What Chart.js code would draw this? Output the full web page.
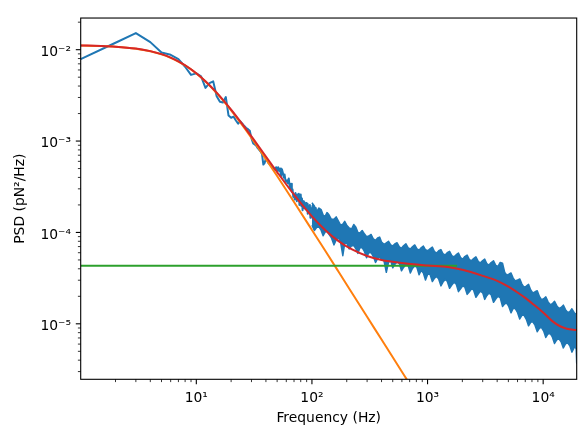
<!DOCTYPE html>
<html>
<head>
<meta charset="utf-8">
<script src="https://cdn.jsdelivr.net/npm/chart.js@4.4.0/dist/chart.umd.min.js"></script>
<style>
  html, body { margin: 0; padding: 0; background: #fff; }
  canvas { display: block; }
</style>
</head>
<body>
<canvas id="psdChart" width="586" height="437"></canvas>
<script>
// measured PSD, low frequency bins (one point per bin)
var lowFreq = [1, 2, 3, 4, 5, 6, 7, 8, 9, 10, 11, 12, 13, 14, 15, 16, 17, 18, 19, 20,
  21, 22, 23, 24, 25, 26, 27, 28, 29, 30, 31, 32, 33, 34, 35, 36, 37, 38, 39, 40,
  41, 42, 43, 44, 45, 46, 47, 48, 49, 50, 51, 52, 53, 54, 55, 56, 57, 58, 59, 60,
  61, 62, 63, 64, 65, 66, 67, 68, 69, 70, 71, 72, 73, 74, 75, 76, 77, 78, 79, 80,
  81, 82, 83, 84, 85, 86, 88, 89, 90, 91, 92, 93, 95, 96, 97, 98, 100, 101, 102, 104,
  105, 107, 108, 110];
var lowPsd = [7.9e-3, 1.19e-2, 1.52e-2, 1.21e-2, 9.3e-3, 8.8e-3, 7.9e-3, 6.5e-3, 5.3e-3, 5.5e-3,
  5.1e-3, 3.82e-3, 4.3e-3, 4.5e-3, 3.1e-3, 2.69e-3, 2.64e-3, 3.03e-3, 1.9e-3, 1.8e-3,
  1.85e-3, 1.68e-3, 1.55e-3, 1.64e-3, 1.55e-3, 1.46e-3, 1.39e-3, 1.35e-3, 1.3e-3, 1.07e-3,
  9.45e-4, 9.2e-4, 8.9e-4, 8.35e-4, 8.0e-4, 7.68e-4, 7.2e-4, 5.53e-4, 5.77e-4, 6.53e-4,
  6.11e-4, 5.77e-4, 5.62e-4, 5.43e-4, 5.3e-4, 5.09e-4, 5.0e-4, 4.85e-4, 5.18e-4, 4.69e-4,
  5.18e-4, 4.69e-4, 5.0e-4, 4.14e-4, 4.92e-4, 4.51e-4, 3.98e-4, 4.3e-4, 3.72e-4, 3.6e-4,
  3.72e-4, 3.45e-4, 3.9e-4, 3.3e-4, 3.05e-4, 3.4e-4, 2.8e-4, 2.95e-4, 2.45e-4, 2.6e-4,
  2.3e-4, 2.7e-4, 2.5e-4, 2.2e-4, 2.6e-4, 2.35e-4, 2.65e-4, 2.0e-4, 2.4e-4, 2.6e-4,
  1.95e-4, 2.35e-4, 1.75e-4, 2.2e-4, 1.85e-4, 2.15e-4, 1.8e-4, 2.1e-4, 1.75e-4, 2.05e-4,
  1.6e-4, 1.95e-4, 1.7e-4, 2.0e-4, 1.45e-4, 1.85e-4, 1.6e-4, 1.95e-4, 1.5e-4, 1.8e-4,
  1.55e-4, 1.85e-4, 1.4e-4, 1.7e-4];

// dense part of the spectrum: upper and lower edge of the noise band
var bandFreq = [100, 105, 110, 115, 120, 125, 130, 135, 140, 147,
  155, 162, 170, 177, 185, 192, 200, 210, 220, 230,
  240, 250, 260, 272, 285, 297, 310, 325, 340, 355,
  370, 385, 400, 420, 440, 460, 480, 500, 520, 545,
  570, 595, 620, 650, 680, 710, 740, 775, 810, 845,
  880, 920, 960, 1005, 1050, 1100, 1150, 1200, 1250, 1305,
  1360, 1420, 1480, 1550, 1620, 1695, 1770, 1850, 1930, 2015,
  2100, 2200, 2300, 2400, 2500, 2620, 2750, 2870, 3000, 3120,
  3250, 3400, 3550, 3720, 3900, 4070, 4250, 4450, 4650, 4850,
  5050, 5270, 5500, 5740, 6000, 6270, 6550, 6840, 7150, 7470,
  7800, 8140, 8500, 8890, 9300, 9690, 10100, 10540, 11000, 11490,
  12000, 12540, 13100, 13690, 14300, 14940, 15600, 16290, 17000, 17730,
  18500, 18900, 19300, 19500];
var bandUpper = [2.11e-4, 1.95e-4, 1.69e-4, 1.85e-4, 1.78e-4, 1.55e-4, 1.5e-4, 1.65e-4, 1.57e-4, 1.4e-4,
  1.39e-4, 1.48e-4, 1.32e-4, 1.2e-4, 1.23e-4, 1.32e-4, 1.2e-4, 1.12e-4, 1.09e-4, 1.22e-4,
  1.14e-4, 1.0e-4, 9.83e-5, 1.05e-4, 9.59e-5, 9.0e-5, 9.13e-5, 9.5e-5, 8.48e-5, 8.2e-5,
  8.69e-5, 8.9e-5, 7.87e-5, 7.4e-5, 7.68e-5, 8.0e-5, 7.31e-5, 7.1e-5, 7.49e-5, 7.7e-5,
  6.96e-5, 6.7e-5, 7.13e-5, 7.5e-5, 6.79e-5, 6.6e-5, 6.96e-5, 7.3e-5, 6.62e-5, 6.4e-5,
  6.79e-5, 7.1e-5, 6.46e-5, 6.3e-5, 6.62e-5, 6.9e-5, 6.15e-5, 5.95e-5, 6.3e-5, 6.5e-5,
  5.85e-5, 5.65e-5, 6.0e-5, 6.2e-5, 5.57e-5, 5.4e-5, 5.71e-5, 5.95e-5, 5.3e-5, 5.1e-5,
  5.44e-5, 5.65e-5, 5.05e-5, 4.9e-5, 5.17e-5, 5.4e-5, 4.8e-5, 4.65e-5, 4.93e-5, 5.1e-5,
  4.57e-5, 4.4e-5, 4.69e-5, 4.9e-5, 4.35e-5, 4.25e-5, 4.69e-5, 4.6e-5, 3.66e-5, 3.4e-5,
  3.49e-5, 3.6e-5, 3.16e-5, 2.95e-5, 3.01e-5, 3.1e-5, 2.72e-5, 2.5e-5, 2.59e-5, 2.7e-5,
  2.35e-5, 2.18e-5, 2.24e-5, 2.3e-5, 1.98e-5, 1.84e-5, 1.88e-5, 1.97e-5, 1.75e-5, 1.62e-5,
  1.66e-5, 1.76e-5, 1.58e-5, 1.47e-5, 1.51e-5, 1.6e-5, 1.43e-5, 1.33e-5, 1.36e-5, 1.46e-5,
  1.33e-5, 1.27e-5, 1.3e-5, 1.84e-5];
var bandLower = [1.2e-4, 1.05e-4, 1.14e-4, 1.15e-4, 1.06e-4, 9.2e-5, 1.01e-4, 1.03e-4, 9.59e-5, 8.8e-5,
  7.31e-5, 8.3e-5, 8.69e-5, 7.8e-5, 5.57e-5, 7.6e-5, 7.68e-5, 6.6e-5, 7.13e-5, 7.2e-5,
  6.62e-5, 5.9e-5, 6.79e-5, 6.8e-5, 6.15e-5, 5.3e-5, 6.0e-5, 6.0e-5, 5.44e-5, 4.7e-5,
  5.17e-5, 5.4e-5, 5.05e-5, 4.9e-5, 3.66e-5, 4.7e-5, 4.93e-5, 4.1e-5, 4.46e-5, 4.75e-5,
  4.57e-5, 3.8e-5, 4.14e-5, 4.45e-5, 4.35e-5, 3.6e-5, 4.04e-5, 4.3e-5, 4.14e-5, 3.45e-5,
  3.85e-5, 3.6e-5, 3.01e-5, 3.5e-5, 3.49e-5, 2.9e-5, 3.16e-5, 3.3e-5, 3.08e-5, 2.6e-5,
  2.86e-5, 3.05e-5, 2.93e-5, 2.45e-5, 2.66e-5, 2.85e-5, 2.72e-5, 2.25e-5, 2.41e-5, 2.6e-5,
  2.53e-5, 2.1e-5, 2.24e-5, 2.42e-5, 2.35e-5, 1.95e-5, 2.13e-5, 2.28e-5, 2.18e-5, 1.85e-5,
  2.03e-5, 2.17e-5, 2.08e-5, 1.72e-5, 1.88e-5, 2.0e-5, 1.93e-5, 1.55e-5, 1.66e-5, 1.68e-5,
  1.54e-5, 1.32e-5, 1.47e-5, 1.47e-5, 1.33e-5, 1.13e-5, 1.24e-5, 1.24e-5, 1.12e-5, 9.5e-6,
  1.04e-5, 1.05e-5, 9.66e-6, 8.2e-6, 8.97e-6, 9.1e-6, 8.33e-6, 7.1e-6, 7.74e-6, 7.85e-6,
  7.19e-6, 6.1e-6, 6.67e-6, 6.85e-6, 6.35e-6, 5.45e-6, 6.04e-6, 6.2e-6, 5.75e-6, 4.9e-6,
  5.48e-6, 5.6e-6, 5.3e-6, 3.69e-6];

// Lorentzian part of the fit (orange)
var lorentzFreq = [1, 1.5, 2, 3, 4, 5, 6, 7, 8, 10, 12, 15, 20, 25, 30, 40, 50, 70, 100, 130,
  170, 220, 300, 400, 600, 1000];
var lorentzPsd = [1.1085e-2, 1.0944e-2, 1.0752e-2, 1.024e-2, 9.601e-3, 8.887e-3, 8.146e-3, 7.416e-3, 6.721e-3, 5.487e-3,
  4.481e-3, 3.35e-3, 2.168e-3, 1.492e-3, 1.08e-3, 6.342e-4, 4.143e-4, 2.153e-4, 1.065e-4, 6.33e-5,
  3.71e-5, 2.218e-5, 1.194e-5, 6.72e-6, 2.99e-6, 1.076e-6];

// white noise floor (green), ends where it disappears under the red fit
var noiseFreq = [1, 1800];
var noisePsd = [4.33e-5, 4.33e-5];

// full fit (red)
var fitFreq = [1, 1.5, 2, 3, 4, 5, 6, 7, 8, 10, 12, 15, 20, 25, 30, 40, 50, 70, 100, 130,
  170, 220, 300, 400, 600, 1000, 1500, 2000, 3000, 4000, 5000, 6000, 7000, 8000, 10000, 12000,
  14000, 16000, 19500];
var fitPsd = [1.113e-2, 1.099e-2, 1.08e-2, 1.028e-2, 9.64e-3, 8.93e-3, 8.19e-3, 7.46e-3, 6.76e-3, 5.53e-3,
  4.52e-3, 3.39e-3, 2.21e-3, 1.535e-3, 1.123e-3, 6.78e-4, 4.58e-4, 2.59e-4, 1.5e-4, 1.066e-4,
  8.04e-5, 6.55e-5, 5.53e-5, 5.0e-5, 4.63e-5, 4.35e-5, 4.18e-5, 3.9e-5, 3.35e-5, 2.95e-5,
  2.55e-5, 2.2e-5, 1.92e-5, 1.68e-5, 1.33e-5, 1.07e-5, 9.4e-6, 8.85e-6, 8.55e-6];

var xMajor = [10, 100, 1000, 10000];
var xTickLabels = ['10\u00b9', '10\u00b2', '10\u00b3', '10\u2074'];
var yMajor = [1e-5, 1e-4, 1e-3, 1e-2];
var yTickLabels = ['10\u207b\u2075', '10\u207b\u2074', '10\u207b\u00b3', '10\u207b\u00b2'];

var FONT = "'DejaVu Sans', sans-serif";

function points(xs, ys) {
  return xs.map(function(x, i) { return {x: x, y: ys[i]}; });
}

function isDecade(v) {
  var l = Math.log10(v);
  return Math.abs(l - Math.round(l)) < 1e-6;
}

// 1..9 x 10^n inside the axis range, like matplotlib's log locator
function logTicks(scale) {
  var out = [];
  var e0 = Math.floor(Math.log10(scale.min));
  var e1 = Math.ceil(Math.log10(scale.max));
  for (var e = e0; e <= e1; e++) {
    for (var k = 1; k <= 9; k++) {
      var v = k * Math.pow(10, e);
      if (v >= scale.min * (1 + 1e-9) && v <= scale.max * (1 - 1e-9)) out.push({value: v, major: k === 1});
    }
  }
  scale.ticks = out;
}

function labelFrom(majors, labels) {
  return function(value) {
    for (var i = 0; i < majors.length; i++) {
      if (Math.abs(majors[i] - value) / majors[i] < 1e-6) return labels[i];
    }
    return '';
  };
}

// clip every line to the axes box, then draw box and outward tick marks
var frameAndTicks = {
  id: 'frameAndTicks',
  beforeDatasetsDraw: function(chart) {
    var a = chart.chartArea, ctx = chart.ctx;
    ctx.save();
    ctx.beginPath();
    ctx.rect(a.left, a.top, a.right - a.left, a.bottom - a.top);
    ctx.clip();
  },
  afterDatasetsDraw: function(chart) {
    var ctx = chart.ctx, a = chart.chartArea;
    var xs = chart.scales.x, ys = chart.scales.y;
    ctx.restore();
    ctx.save();
    ctx.strokeStyle = '#000';
    xs.ticks.forEach(function(t) {
      var big = isDecade(t.value);
      var px = xs.getPixelForValue(t.value);
      ctx.lineWidth = big ? 1.1 : 0.8;
      ctx.beginPath();
      ctx.moveTo(px, a.bottom);
      ctx.lineTo(px, a.bottom + (big ? 4.9 : 2.8));
      ctx.stroke();
    });
    ys.ticks.forEach(function(t) {
      var big = isDecade(t.value);
      var py = ys.getPixelForValue(t.value);
      ctx.lineWidth = big ? 1.1 : 0.8;
      ctx.beginPath();
      ctx.moveTo(a.left, py);
      ctx.lineTo(a.left - (big ? 4.9 : 2.8), py);
      ctx.stroke();
    });
    ctx.lineWidth = 1.1;
    ctx.strokeRect(a.left, a.top, a.right - a.left, a.bottom - a.top);
    ctx.restore();
  }
};

function lineSet(data, color, order) {
  return {
    data: data,
    borderColor: color,
    backgroundColor: color,
    borderWidth: 2,
    pointRadius: 0,
    showLine: true,
    borderJoinStyle: 'round',
    order: order
  };
}

window.onload = function() {
  var ctx = document.getElementById('psdChart').getContext('2d');

  var red = lineSet(points(fitFreq, fitPsd), '#d62728', 0);
  red.cubicInterpolationMode = 'monotone';
  var green = lineSet(points(noiseFreq, noisePsd), '#2ca02c', 1);
  var orange = lineSet(points(lorentzFreq, lorentzPsd), '#ff7f0e', 2);
  orange.cubicInterpolationMode = 'monotone';
  var blue = lineSet(points(lowFreq, lowPsd), '#1f77b4', 3);
  var bandTop = lineSet(points(bandFreq, bandUpper), '#1f77b4', 4);
  bandTop.borderWidth = 1.5;
  var bandBottom = lineSet(points(bandFreq, bandLower), '#1f77b4', 5);
  bandBottom.borderWidth = 1.5;
  bandBottom.fill = '-1';

  new Chart(ctx, {
    type: 'scatter',
    data: { datasets: [red, green, orange, blue, bandTop, bandBottom] },
    options: {
      responsive: false,
      animation: false,
      devicePixelRatio: 1,
      layout: { padding: { left: 0, right: 9.3, top: 10.3, bottom: 0 } },
      plugins: { legend: { display: false }, tooltip: { enabled: false } },
      scales: {
        x: {
          type: 'logarithmic',
          min: 1,
          max: 19500,
          bounds: 'data',
          grid: { display: false, drawTicks: false },
          border: { display: false },
          afterBuildTicks: logTicks,
          afterFit: function(s) { s.height = 57.7; },
          ticks: {
            autoSkip: false,
            maxRotation: 0,
            padding: 10.5,
            color: '#000',
            font: { family: FONT, size: 13.89 },
            callback: labelFrom(xMajor, xTickLabels)
          },
          title: {
            display: true,
            text: 'Frequency (Hz)',
            color: '#000',
            font: { family: FONT, size: 13.89 },
            padding: { top: 0, bottom: 10.4 }
          }
        },
        y: {
          type: 'logarithmic',
          min: 2.47e-6,
          max: 0.0222,
          bounds: 'data',
          grid: { display: false, drawTicks: false },
          border: { display: false },
          afterBuildTicks: logTicks,
          afterFit: function(s) { s.width = 80.7; },
          ticks: {
            autoSkip: false,
            padding: 9.7,
            labelOffset: 2.5,
            color: '#000',
            font: { family: FONT, size: 13.89 },
            callback: labelFrom(yMajor, yTickLabels)
          },
          title: {
            display: true,
            text: 'PSD (pN\u00b2/Hz)',
            color: '#000',
            font: { family: FONT, size: 13.89 },
            padding: { top: 11.9, bottom: 0 }
          }
        }
      }
    },
    plugins: [frameAndTicks]
  });
};
</script>
</body>
</html>
